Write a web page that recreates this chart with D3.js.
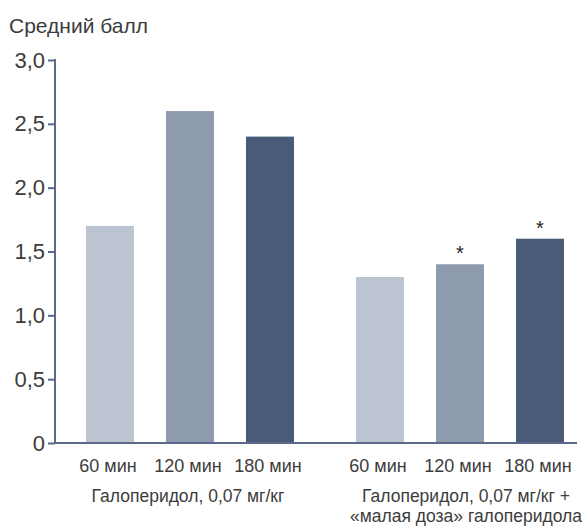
<!DOCTYPE html>
<html><head><meta charset="utf-8">
<script src="https://cdn.jsdelivr.net/npm/d3@7"></script>
<style>
body{margin:0;background:#fff;}
text{font-family:"Liberation Sans",Arial,sans-serif;fill:#3c3c3c;}
</style></head>
<body><svg id="c" width="587" height="530"></svg>
<script>
const groups = ["Галоперидол, 0,07 мг/кг", "Галоперидол, 0,07 мг/кг +|«малая доза» галоперидола"];
const times = ["60 мин", "120 мин", "180 мин"];
const values = [[1.7, 2.6, 2.4], [1.3, 1.4, 1.6]];
const significant = [[false, false, false], [false, true, true]];
const yTicks = [0, 0.5, 1.0, 1.5, 2.0, 2.5, 3.0];
const yTickLabels = ["0", "0,5", "1,0", "1,5", "2,0", "2,5", "3,0"];
const colors = ["#bdc4d1", "#8e9aad", "#4a5b7a"];
const axisColor = "#5a6a88";

const svg = d3.select("#c");
const y = d3.scaleLinear().domain([0, 3]).range([443, 60]);
const slotStarts = [86, 356];
const labelCenters = [102, 110];
const x = d3.scaleBand().domain(times).range([0, 208]).paddingInner(0.4).paddingOuter(0);
const bw = x.bandwidth();

// title
svg.append("text").attr("x", 9).attr("y", 33).attr("font-size", 21).text("Средний балл");

// bars
values.forEach((vals, gi) => {
  const g = svg.append("g").attr("transform", `translate(${slotStarts[gi]},0)`);
  vals.forEach((v, i) => {
    g.append("rect")
      .attr("x", x(times[i])).attr("width", bw)
      .attr("y", y(v)).attr("height", y(0) - y(v))
      .attr("fill", colors[i]);
    if (significant[gi][i]) {
      g.append("text").attr("x", x(times[i]) + bw / 2).attr("y", y(v) - 4)
        .attr("text-anchor", "middle").attr("font-size", 20).attr("font-family", "DejaVu Sans")
        .style("fill", "#222").text("*");
    }
    g.append("text").attr("x", x(times[i]) + bw / 2 - 2).attr("y", 472)
      .attr("text-anchor", "middle").attr("font-size", 18).text(times[i]);
  });
  const lines = groups[gi].split("|");
  lines.forEach((ln, li) => {
    g.append("text").attr("x", labelCenters[gi]).attr("y", 502 + li * 20)
      .attr("text-anchor", "middle").attr("font-size", 17.5).text(ln);
  });
});

// y axis
const yAxis = d3.axisLeft(y).tickValues(yTicks).tickFormat((d, i) => yTickLabels[i]).tickSize(7).tickPadding(3);
const ya = svg.append("g").attr("transform", "translate(55,0)").call(yAxis);
ya.select(".domain").remove();
ya.selectAll("line").attr("stroke", axisColor).attr("stroke-width", 2);
ya.selectAll("text").attr("font-size", 22).style("fill", "#3c3c3c")
  .attr("font-family", "'Liberation Sans',Arial,sans-serif");
svg.append("line").attr("x1", 55).attr("x2", 55).attr("y1", y(3) - 1).attr("y2", y(0) + 1)
  .attr("stroke", axisColor).attr("stroke-width", 2);
svg.append("line").attr("x1", 54).attr("x2", 577).attr("y1", y(0)).attr("y2", y(0))
  .attr("stroke", axisColor).attr("stroke-width", 2);
</script></body></html>
